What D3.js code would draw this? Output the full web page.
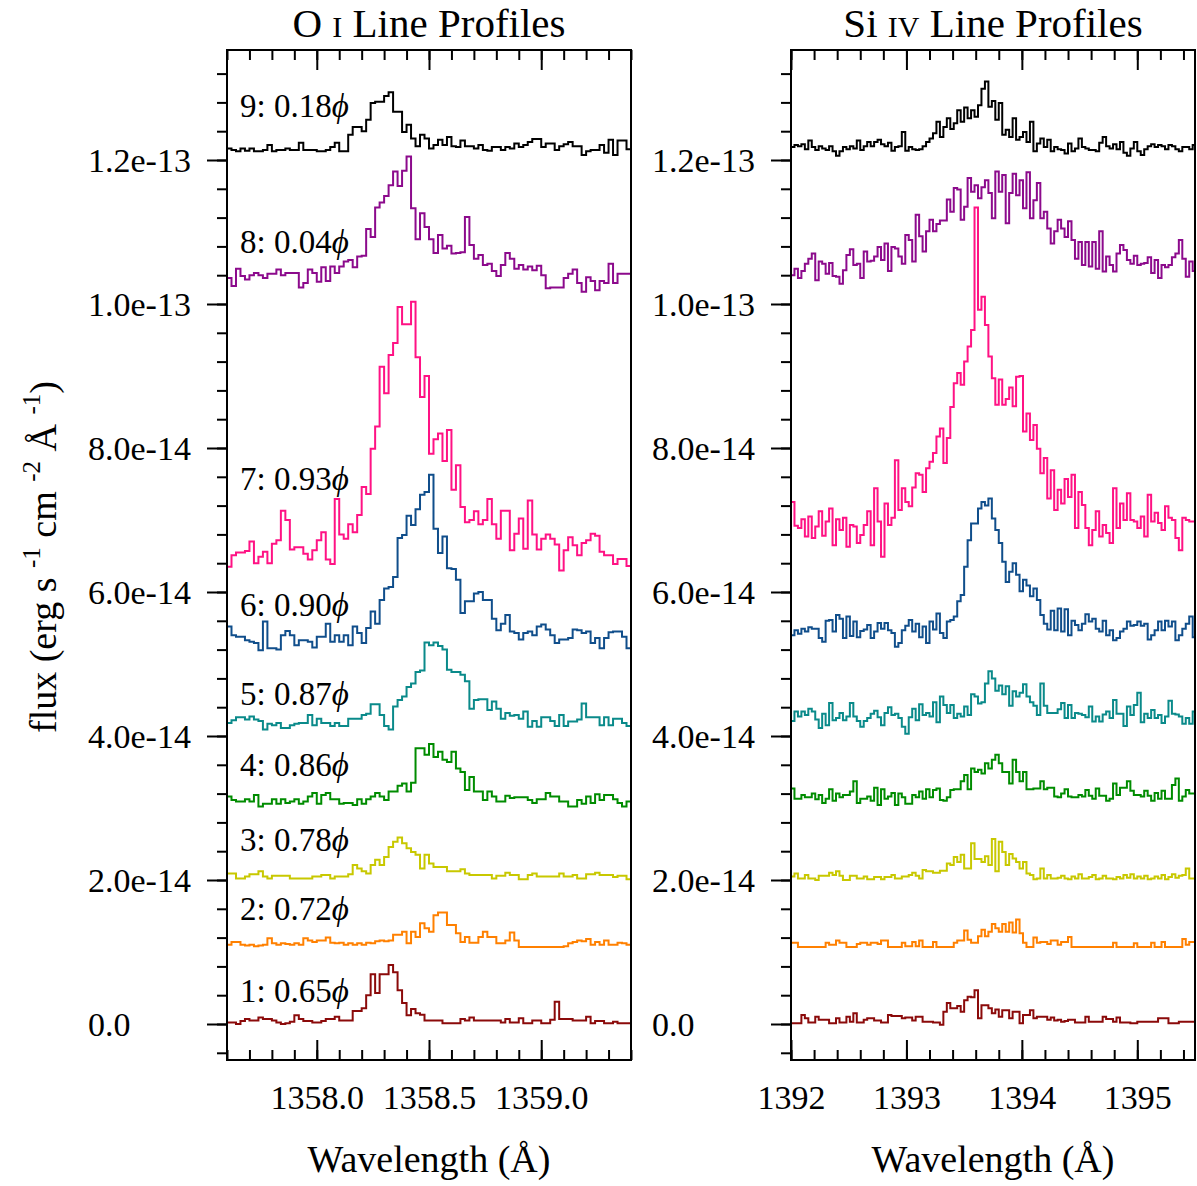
<!DOCTYPE html>
<html><head><meta charset="utf-8">
<script src="https://cdn.jsdelivr.net/npm/d3@7"></script>
<style>
body{margin:0;background:#fff}
text{font-family:"Liberation Serif","Times New Roman",serif;fill:#000}
</style>
</head><body>
<svg id="chart" width="1197" height="1186"></svg>
<script>
// ---------- DATA (flux in units of 1e-15 erg s-1 cm-2 Å-1, offsets included as plotted) ----------
const seriesNames = ["1","2","3","4","5","6","7","8","9"];
const phases = ["0.65","0.72","0.78","0.86","0.87","0.90","0.93","0.04","0.18"];
const seriesColors = ["#8b0a0a","#ff8000","#c8c800","#008c00","#0a8a8a","#104e8b","#ff1284","#8c0a8c","#000000"];

// O I 1358 Å: bins of 0.02 Å starting at 1357.60 Å
const oiStart = 1357.6, oiStep = 0.02;
const oi1 = [0.2,0.2,0,0.4,0.7,0.5,0.5,0.9,0.7,0.7,0.5,0.2,0,0.1,0.3,1.2,0.7,0.4,0.4,0.2,0.2,0.4,0.7,0.7,1.0,0.5,0.5,0.5,1.8,1.8,2.2,4.0,6.9,4.3,6.9,6.9,8.2,7.2,4.7,2.9,1.2,2.1,1.5,1.3,0.5,0.5,0.5,0.5,0.1,0.1,0.1,0.1,0.7,0.5,0.9,0.5,0.5,0.5,0.5,0.5,0.5,0.2,0.7,0.2,0.2,0.8,0.1,0.1,0.5,0.5,0.1,0.1,0.6,3.1,0.7,0.7,0.7,0.5,0.5,0.5,1.0,0.1,0.4,0.4,0.1,0.1,0.3,0.1,0.1,0.1];
const oi2 = [11.0,11.4,11.4,11.0,10.9,11.0,10.8,10.9,11.0,11.9,11.2,11.0,11.2,11.1,11.0,11.2,11.0,11.9,11.6,11.4,11.6,11.6,12.0,11.3,11.2,11.3,11.0,11.2,11.0,11.2,11.0,11.3,11.2,11.5,11.6,11.5,11.6,12.4,12.4,12.8,11.2,12.8,12.1,14.0,13.3,12.8,15.1,15.5,15.5,13.75,13.75,12.6,11.4,12.1,11.3,11.3,12.1,12.8,12.1,12.1,11.2,11.2,11.6,12.7,11.6,10.7,10.7,10.7,10.7,10.7,10.7,10.7,10.7,10.7,10.7,10.8,11.2,11.4,11.6,11.5,11.8,11.0,11.4,11.0,11.6,11.0,11.0,11.3,11.2,11.0];
const oi3 = [20.9,20.9,20.2,20.2,20.5,20.8,20.8,21.2,20.5,20.2,20.6,20.6,20.6,20.6,20.2,20.2,20.2,20.2,20.2,20.5,20.5,20.7,20.7,20.2,20.5,20.5,20.5,20.8,22.1,21.6,21.2,20.9,22.1,22.8,22.1,23.2,24.6,25.3,25.9,25.1,24.4,23.9,23.5,21.6,23.5,22.3,21.8,21.8,21.8,21.2,21.2,21.2,21.5,20.9,20.7,20.7,20.7,20.7,20.7,20.2,20.6,20.6,21.0,20.7,20.7,20.1,20.1,20.7,20.9,20.5,20.5,20.5,20.5,20.5,20.9,20.5,20.5,20.7,20.2,20.2,20.8,20.8,21.0,20.7,20.7,20.7,20.4,20.6,20.6,20.1];
const oi4 = [31.6,31.1,30.9,30.9,31.2,30.9,31.8,30.2,30.6,30.6,31.2,30.6,31.2,30.7,30.9,31.2,30.6,30.9,31.6,32.1,30.6,31.8,32.1,31.2,31.2,30.6,30.7,30.7,30.4,31.2,30.6,31.2,31.6,32.1,31.6,31.1,32.3,32.3,33.1,33.4,32.3,33.5,38.3,38.3,37.4,38.9,37.1,37.8,36.7,36.4,37.8,35.5,35.0,32.5,34.3,32.3,32.3,31.1,32.3,31.6,30.9,30.9,31.7,31.4,31.5,31.5,31.5,31.1,30.7,31.2,31.2,32.1,31.6,31.6,30.9,30.9,30.2,30.2,31.1,30.6,31.6,30.7,31.9,31.1,31.8,31.8,31.2,30.7,30.2,30.9];
const oi5 = [41.8,42.2,42.6,42.6,42.3,42.7,42.3,42.1,40.9,41.7,41.5,41.8,41.1,41.1,41.5,41.7,41.8,41.8,42.9,41.5,42.4,41.8,41.8,41.4,41.8,41.4,41.4,42.4,42.4,42.4,42.9,43.1,44.4,44.4,42.9,41.4,40.9,44.1,45.0,45.5,46.8,47.3,48.9,49.1,53.0,52.6,53.0,52.5,52.0,49.2,48.9,48.9,48.5,47.6,43.8,45.0,45.1,45.1,43.6,44.8,43.8,42.4,43.2,42.8,42.9,42.4,43.4,41.3,42.1,41.3,42.6,42.6,42.1,41.4,42.9,41.4,42.0,42.0,42.3,44.5,42.6,42.6,42.6,41.5,42.6,41.5,42.4,42.4,41.8,41.4];
const oi6 = [55.2,54.0,53.8,53.8,53.3,53.1,52.9,51.9,55.9,52.2,52.2,52.0,54.0,54.6,54.0,52.6,53.3,53.3,53.1,52.3,53.8,53.8,55.6,53.1,54.0,53.1,54.0,52.6,55.2,54.3,52.9,55.0,57.3,55.6,58.9,60.5,60.7,62.1,67.5,67.9,70.6,69.3,71.5,73.5,73.9,76.3,68.8,65.4,67.7,63.3,63.2,61.7,57.1,58.7,58.7,59.8,60.0,58.9,58.9,56.3,54.7,55.6,56.8,54.5,54.3,53.4,54.3,54.5,54.0,55.2,55.5,54.8,54.0,52.9,53.4,53.4,53.6,54.8,54.7,54.3,54.5,52.9,53.6,52.2,53.6,54.4,54.5,54.5,53.8,52.2];
const oi7 = [63.5,65.1,65.5,65.5,65.7,67.0,64.0,64.9,65.6,64.0,66.7,67.2,71.3,70.0,65.9,66.2,66.2,65.3,64.5,65.8,67.2,68.3,64.5,63.9,72.9,68.0,67.4,69.4,68.3,70.7,74.6,73.6,79.9,83.0,91.3,87.6,92.9,94.6,99.6,97.2,97.2,100.3,92.6,87.1,90.0,79.2,81.2,82.0,78.2,82.5,74.2,77.6,71.8,69.7,70.0,71.2,69.4,70.0,72.9,69.4,67.4,71.3,71.3,65.8,68.1,70.2,66.0,72.7,68.0,65.9,67.4,68.0,67.4,66.6,63.0,65.8,67.6,66.5,65.1,66.8,67.2,68.1,67.8,65.6,65.1,65.1,63.9,64.6,64.6,63.6];
const oi8 = [103.6,102.5,104.9,103.9,103.4,104.0,104.3,104.0,103.6,104.2,104.2,104.8,104.0,104.3,104.3,104.3,102.3,102.9,104.8,104.3,103.1,105.1,103.2,105.2,104.3,105.2,105.9,106.1,105.1,106.6,106.7,110.4,109.3,113.4,114.1,115.0,116.5,118.4,116.4,118.5,120.5,113.3,109.0,112.6,110.7,109.0,107.1,109.6,107.7,108.1,107.0,107.1,107.2,112.1,108.2,106.3,106.8,105.4,105.6,104.6,103.9,105.4,107.1,106.3,104.9,105.4,104.8,105.2,104.7,105.3,104.0,102.2,102.3,102.3,102.3,103.6,104.2,104.8,102.9,101.7,103.7,103.2,101.9,103.2,102.9,105.6,102.9,104.2,104.2,104.2];
const oi9 = [121.6,121.4,121.2,121.6,121.3,121.6,121.2,121.2,121.4,122.1,121.2,121.4,121.4,121.6,121.4,121.4,122.4,121.4,121.4,121.4,121.2,121.2,121.4,121.8,122.4,121.2,121.2,123.5,124.6,124.6,124.0,125.6,127.9,128.1,128.1,128.9,129.4,126.7,126.7,123.9,124.9,123.0,121.9,123.5,123.0,121.6,122.1,122.8,122.1,123.2,121.9,121.8,122.7,121.9,121.9,121.6,122.1,121.4,121.3,121.8,121.8,121.4,121.8,121.6,122.3,121.8,122.1,122.5,122.9,122.9,121.8,122.3,122.3,121.4,121.9,122.2,122.5,121.9,121.9,120.7,121.2,121.4,121.4,122.1,121.0,122.8,120.7,122.7,122.7,121.5];

// Si IV 1393.76 Å: bins of 0.03 Å starting at 1392.00 Å
const siStart = 1392.0, siStep = 0.03;
const si1 = [0.1,0.1,0.1,1.25,0.8,0.2,0.2,1.0,0.6,0.6,0.6,0.1,0.1,0.8,0.2,0.2,1.0,0.3,1.5,0.2,0.2,0.6,0.8,0.8,0.5,0.5,0.2,0.2,1.25,1.1,1.1,1.1,0.8,0.9,0.9,0.5,1.0,1.0,0.3,0.3,0.3,0.2,0.2,-0.1,1.7,2.9,2.2,2.2,2.5,1.7,3.3,3.8,3.7,4.7,0.8,2.6,2.6,2.2,1.5,2.0,1.0,1.9,1.9,0.8,1.7,1.7,0.1,1.25,1.25,1.9,0.8,1.0,1.0,1.0,0.6,0.9,0.5,0.6,0.3,0.4,0.6,0.6,0.2,0.2,0.2,1.0,0.3,0.3,0.3,0.3,1.0,0.7,0.7,0.3,0.9,0.2,0.2,0.2,0.1,0.1,0.3,0.3,0.3,0.3,0.3,0.3,0.8,0.8,0.8,0.1,0.1,0.1,0.3,0.3,0.3,0.3,0.3];
const si2 = [11.3,11.3,10.7,10.7,10.7,10.7,10.7,10.7,10.7,10.7,11.3,11.0,11.0,11.6,11.3,11.3,10.7,10.7,10.7,11.1,11.3,11.3,11.0,11.3,11.3,11.1,11.6,11.6,10.7,10.7,10.7,10.7,11.3,10.8,10.8,11.4,10.8,11.6,10.7,10.7,10.7,11.4,10.7,10.7,10.7,10.7,10.7,11.3,11.6,11.6,13.0,11.7,11.3,11.3,12.2,13.1,12.2,12.8,13.9,13.3,12.8,13.9,12.8,14.1,12.7,14.5,12.6,11.3,10.7,10.7,12.0,11.3,11.4,11.4,11.1,11.6,11.6,11.0,11.4,11.4,12.1,10.7,10.7,10.7,10.7,10.7,10.7,10.7,10.7,10.7,10.7,10.7,10.7,11.3,10.7,10.7,10.7,10.7,10.7,11.2,10.7,10.7,10.7,10.7,11.3,10.7,10.7,11.4,10.7,10.7,10.7,10.7,10.7,11.8,11.0,11.4,11.4];
const si3 = [20.5,20.9,20.2,20.2,20.7,20.2,20.2,20.0,20.6,20.6,20.6,21.0,20.7,21.2,20.6,20.0,20.0,20.6,20.6,20.2,20.2,20.5,20.1,20.1,20.4,20.4,20.1,20.4,20.4,20.7,20.2,20.2,20.5,20.5,20.7,21.0,20.6,20.2,21.4,21.2,21.2,21.0,21.0,21.3,21.3,22.3,22.1,23.2,22.5,23.5,21.6,21.6,25.1,22.9,22.9,22.5,23.3,22.1,25.7,21.2,25.3,23.9,22.1,23.6,23.0,22.5,21.6,22.5,20.9,20.7,20.1,20.2,21.6,20.2,20.7,20.2,20.2,20.3,20.6,20.2,20.1,20.5,20.2,20.8,20.2,20.2,20.4,20.7,20.1,20.2,20.6,20.2,20.2,20.1,20.4,20.2,20.7,20.3,20.8,20.2,20.5,20.2,20.6,20.1,20.2,20.5,20.2,20.7,20.1,20.4,20.8,20.3,20.6,20.7,21.6,20.2,20.2];
const si4 = [32.7,31.3,31.3,31.8,31.5,31.5,32.0,31.2,31.8,30.7,31.3,32.6,31.0,32.0,31.5,31.8,31.8,32.3,33.7,30.7,31.3,31.3,31.6,31.0,32.8,30.4,32.6,31.3,31.6,32.1,30.4,32.0,31.5,30.6,30.6,31.8,31.5,32.3,31.3,32.6,31.5,32.5,32.7,31.1,31.0,31.5,32.5,32.6,32.6,33.7,34.6,32.6,35.5,35.0,35.3,34.8,36.2,35.5,36.7,37.4,36.2,35.0,35.0,33.4,36.7,35.0,33.7,35.0,32.6,32.6,32.7,32.7,33.7,32.6,32.8,32.8,31.6,31.5,32.0,32.6,31.6,31.5,31.5,31.8,31.6,32.5,31.7,31.3,32.7,31.7,31.7,31.0,31.3,33.4,31.8,32.8,32.8,33.7,32.4,31.8,31.8,31.6,32.4,31.7,31.0,32.1,31.3,32.4,31.3,31.3,33.2,34.1,31.0,31.6,32.5,32.0,32.0];
const si5 = [42.1,43.4,42.7,43.4,42.9,43.8,43.4,42.3,41.1,43.1,41.5,44.6,42.2,42.5,43.2,42.2,42.7,44.6,42.7,42.1,41.3,42.1,42.5,43.1,43.5,42.6,41.5,43.2,44.0,42.9,43.1,42.5,41.3,40.3,42.6,43.8,42.2,44.4,42.9,43.2,42.7,44.7,41.9,45.5,44.3,43.2,44.3,42.5,43.1,42.7,44.1,42.9,45.8,45.5,44.5,44.7,47.3,49.0,48.0,46.3,47.0,45.8,46.9,44.2,46.2,45.5,46.0,47.2,45.5,44.7,44.2,42.9,47.3,44.2,43.2,43.2,43.2,43.7,44.6,42.5,44.3,42.5,43.2,43.1,42.9,42.6,44.1,42.0,42.7,42.0,43.0,43.4,42.5,45.0,43.1,43.1,41.4,44.1,42.9,44.3,46.0,41.9,43.1,42.5,43.6,42.5,42.9,41.8,42.7,44.9,43.1,43.0,42.7,41.7,42.5,41.7,43.4];
const si6 = [54.0,54.7,54.2,54.9,54.5,55.1,54.9,54.9,53.6,53.1,56.0,56.1,54.5,56.8,56.3,53.6,56.6,53.9,55.9,53.7,54.6,54.8,55.4,53.6,54.5,55.7,54.9,55.7,54.7,54.3,52.4,52.9,54.7,55.3,56.1,54.5,55.6,53.7,55.2,52.9,55.9,54.8,57.0,54.3,53.6,55.9,56.1,56.6,58.7,59.6,63.5,67.2,69.5,69.5,71.6,72.5,72.0,73.0,70.2,68.6,66.8,64.2,61.4,62.8,64.0,62.4,60.1,61.7,60.9,59.4,60.5,58.9,56.8,55.6,54.8,57.4,54.7,57.7,54.5,57.6,54.0,56.0,55.4,54.7,55.6,56.9,55.9,56.3,54.9,54.5,56.0,54.0,54.7,53.3,53.6,54.5,54.9,55.9,55.3,55.4,55.9,55.3,55.6,53.4,54.0,54.7,55.9,54.7,56.0,55.2,55.9,53.3,54.0,54.9,55.6,56.6,53.7];
const si7 = [72.5,69.2,68.9,70.1,67.7,70.5,67.5,69.1,71.2,67.8,69.8,71.6,66.5,70.1,68.6,70.3,66.3,69.3,69.1,66.8,67.9,69.3,71.2,66.5,74.4,69.8,64.9,72.3,69.3,70.3,78.3,71.4,74.4,72.5,71.9,74.5,76.5,76.3,73.9,77.2,78.1,79.3,81.6,82.7,77.9,81.4,85.7,89.0,90.4,88.8,92.0,94.1,96.4,113.4,99.2,101.0,97.1,92.7,89.7,86.0,89.5,86.0,86.8,88.4,85.8,89.9,90.0,82.3,84.8,81.1,83.2,79.9,76.5,78.6,73.0,76.9,71.4,74.2,72.3,75.7,73.2,76.3,68.9,73.9,72.1,68.9,66.5,68.6,71.2,67.7,69.3,68.2,66.8,74.4,68.9,72.3,70.0,73.7,70.0,69.8,68.9,70.5,67.7,73.5,69.8,71.0,69.6,68.6,71.9,70.3,70.0,67.5,65.8,70.3,70.0,69.8,69.8];
const si8 = [104.0,104.9,103.6,104.6,105.6,106.3,107.0,103.3,105.9,105.6,104.2,105.7,103.9,103.8,102.8,104.7,106.8,107.6,105.4,105.6,103.6,107.3,105.9,106.0,106.6,107.9,106.1,108.4,104.6,107.9,107.7,106.6,105.6,109.6,108.9,105.9,112.4,109.4,107.3,110.1,111.7,110.1,111.1,111.6,111.6,114.5,112.8,116.1,115.9,111.7,113.5,117.5,115.6,116.5,114.7,116.2,117.2,115.4,111.9,118.4,115.6,117.9,111.2,115.4,118.1,115.1,117.2,113.3,118.3,111.9,114.4,116.8,111.9,112.8,110.5,108.4,110.1,111.7,110.5,109.3,111.5,108.9,106.3,108.6,105.4,108.6,105.2,108.6,104.9,110.1,104.5,106.6,105.4,104.5,107.0,108.2,107.5,106.1,105.6,106.7,105.4,105.6,105.7,106.5,104.3,106.1,103.6,105.4,105.1,105.4,106.5,107.0,108.9,106.3,103.8,105.9,104.6];
const si9 = [121.8,122.1,121.9,122.2,121.5,122.7,121.8,121.4,121.9,121.6,121.4,121.9,121.2,120.6,121.2,121.8,121.5,121.9,121.6,122.7,121.4,121.9,122.5,121.9,122.5,122.8,122.2,121.9,122.4,121.3,121.8,121.9,123.9,121.3,121.8,121.5,121.4,121.5,121.9,122.5,123.0,123.7,125.3,123.2,124.6,125.8,124.3,125.1,126.9,125.3,127.3,125.8,126.9,126.0,127.6,129.9,130.9,127.4,128.2,125.6,127.9,123.5,124.2,123.2,125.8,122.8,123.2,123.9,122.5,125.3,121.2,122.3,123.0,121.8,122.8,121.2,121.8,121.5,121.4,120.9,122.3,121.2,121.6,123.0,121.8,121.6,121.4,121.4,121.2,122.4,123.2,121.9,121.6,122.2,121.5,122.5,121.0,120.6,121.6,122.5,121.2,120.7,121.5,121.9,122.2,121.8,122.1,121.9,121.5,122.1,121.9,121.5,121.2,121.8,121.8,121.5,122.1];

// Axis ticks / labels
const yTickValues = [0,20,40,60,80,100,120];
const yTickLabels = ["0.0","2.0e-14","4.0e-14","6.0e-14","8.0e-14","1.0e-13","1.2e-13"];
const oiTickValues = [1358.0,1358.5,1359.0];
const oiTickLabels = ["1358.0","1358.5","1359.0"];
const siTickValues = [1392,1393,1394,1395];
const siTickLabels = ["1392","1393","1394","1395"];

// ---------- DRAWING ----------
const svg = d3.select("#chart");
const yTop = 50, yBot = 1060;
const y = d3.scaleLinear().domain([-5, (1024-50)/7.2]).range([yBot, yTop]);

const oiSeries = [oi1,oi2,oi3,oi4,oi5,oi6,oi7,oi8,oi9];
const siSeries = [si1,si2,si3,si4,si5,si6,si7,si8,si9];

const panels = [
  {id:"oi", x0:227, x1:631, domain:[1357.6,1359.4], start:oiStart, step:oiStep, data:oiSeries,
   title:["O ","I"," Line Profiles"], ticks:oiTickValues, tickLabels:oiTickLabels, minorStep:0.1, labels:true},
  {id:"si", x0:791, x1:1195, domain:[1392,1395.5], start:siStart, step:siStep, data:siSeries,
   title:["Si ","IV"," Line Profiles"], ticks:siTickValues, tickLabels:siTickLabels, minorStep:0.2, labels:false}
];

const defs = svg.append("defs");

panels.forEach(p => {
  const x = d3.scaleLinear().domain(p.domain).range([p.x0, p.x1]);
  const minor = d3.range(Math.ceil(p.domain[0]/p.minorStep - 1e-6), Math.floor(p.domain[1]/p.minorStep + 1e-6) + 1)
                  .map(k => +(k*p.minorStep).toFixed(3));

  defs.append("clipPath").attr("id","clip-"+p.id)
    .append("rect").attr("x",p.x0).attr("y",yTop).attr("width",p.x1-p.x0).attr("height",yBot-yTop);

  // spectra
  const line = d3.line().x(d => x(d[0])).y(d => y(d[1])).curve(d3.curveStepAfter);
  const g = svg.append("g").attr("clip-path","url(#clip-"+p.id+")");
  p.data.forEach((vals, si) => {
    const pts = vals.map((v,i) => [p.start + i*p.step, v]);
    pts.push([p.start + vals.length*p.step, vals[vals.length-1]]);
    g.append("path").attr("d", line(pts)).attr("fill","none")
      .attr("stroke", seriesColors[si]).attr("stroke-width",2).attr("stroke-linejoin","miter");
  });

  // y axes (outward ticks on left)
  const yMinor = d3.range(-4, 136, 4);
  svg.append("g").attr("transform",`translate(${p.x0},0)`)
    .call(d3.axisLeft(y).tickValues(yMinor).tickSize(10).tickFormat(""))
    .call(a => a.select(".domain").remove());
  const ya = svg.append("g").attr("transform",`translate(${p.x0},0)`)
    .call(d3.axisLeft(y).tickValues(yTickValues).tickSize(20).tickFormat((d,i)=>yTickLabels[i]))
    .call(a => a.select(".domain").remove());
  ya.selectAll("text").attr("x",-139).attr("text-anchor","start")
    .style("font-family",'"Liberation Serif","Times New Roman",serif').style("font-size","34px").attr("dy","0.33em");

  // bottom axis (inward ticks)
  svg.append("g").attr("transform",`translate(0,${yBot})`)
    .call(d3.axisBottom(x).tickValues(minor).tickSizeInner(-10).tickSizeOuter(0).tickFormat(""))
    .call(a => a.select(".domain").remove());
  const xa = svg.append("g").attr("transform",`translate(0,${yBot})`)
    .call(d3.axisBottom(x).tickValues(p.ticks).tickSizeInner(-20).tickSizeOuter(0).tickPadding(25)
          .tickFormat((d,i)=>p.tickLabels[i]))
    .call(a => a.select(".domain").remove());
  xa.selectAll("text").style("font-family",'"Liberation Serif","Times New Roman",serif').style("font-size","34px");

  // top axis (inward ticks, no labels)
  svg.append("g").attr("transform",`translate(0,${yTop})`)
    .call(d3.axisTop(x).tickValues(minor).tickSizeInner(-10).tickSizeOuter(0).tickFormat(""))
    .call(a => a.select(".domain").remove());
  svg.append("g").attr("transform",`translate(0,${yTop})`)
    .call(d3.axisTop(x).tickValues(p.ticks).tickSizeInner(-20).tickSizeOuter(0).tickFormat(""))
    .call(a => a.select(".domain").remove());

  svg.selectAll(".tick line").attr("stroke","#000").attr("stroke-width",2);

  // frame
  svg.append("rect").attr("x",p.x0).attr("y",yTop).attr("width",p.x1-p.x0).attr("height",yBot-yTop)
    .attr("fill","none").attr("stroke","#000").attr("stroke-width",2);

  // title
  const cx = (p.x0+p.x1)/2;
  const t = svg.append("text").attr("x",cx).attr("y",37).attr("text-anchor","middle").style("font-size","41px");
  t.append("tspan").text(p.title[0]);
  t.append("tspan").style("font-size","30px").text(p.title[1]);
  t.append("tspan").text(p.title[2]);

  // x axis title
  svg.append("text").attr("x",cx).attr("y",1172).attr("text-anchor","middle").style("font-size","38px")
    .text("Wavelength (Å)");

  // series labels
  if (p.labels) {
    const labelBaselines = [1002,920,851,776,705,616,490,253,117];
    seriesNames.forEach((n,i) => {
      const lt = svg.append("text").attr("x",240).attr("y",labelBaselines[i]).style("font-size","33px");
      lt.append("tspan").text(n + ": " + phases[i]);
      lt.append("tspan").style("font-style","italic").text("\u03D5");
    });
  }
});

// y axis title with superscripts
const yl = svg.append("text").attr("transform","translate(56,557) rotate(-90)")
  .attr("text-anchor","middle").style("font-size","38px");
yl.append("tspan").text("flux (erg s ");
yl.append("tspan").attr("dy",-16).style("font-size","25px").text("-1");
yl.append("tspan").attr("dy",16).text(" cm ");
yl.append("tspan").attr("dy",-16).style("font-size","25px").text("-2");
yl.append("tspan").attr("dy",16).text(" Å ");
yl.append("tspan").attr("dy",-16).style("font-size","25px").text("-1");
yl.append("tspan").attr("dy",16).text(")");
</script>
</body></html>
